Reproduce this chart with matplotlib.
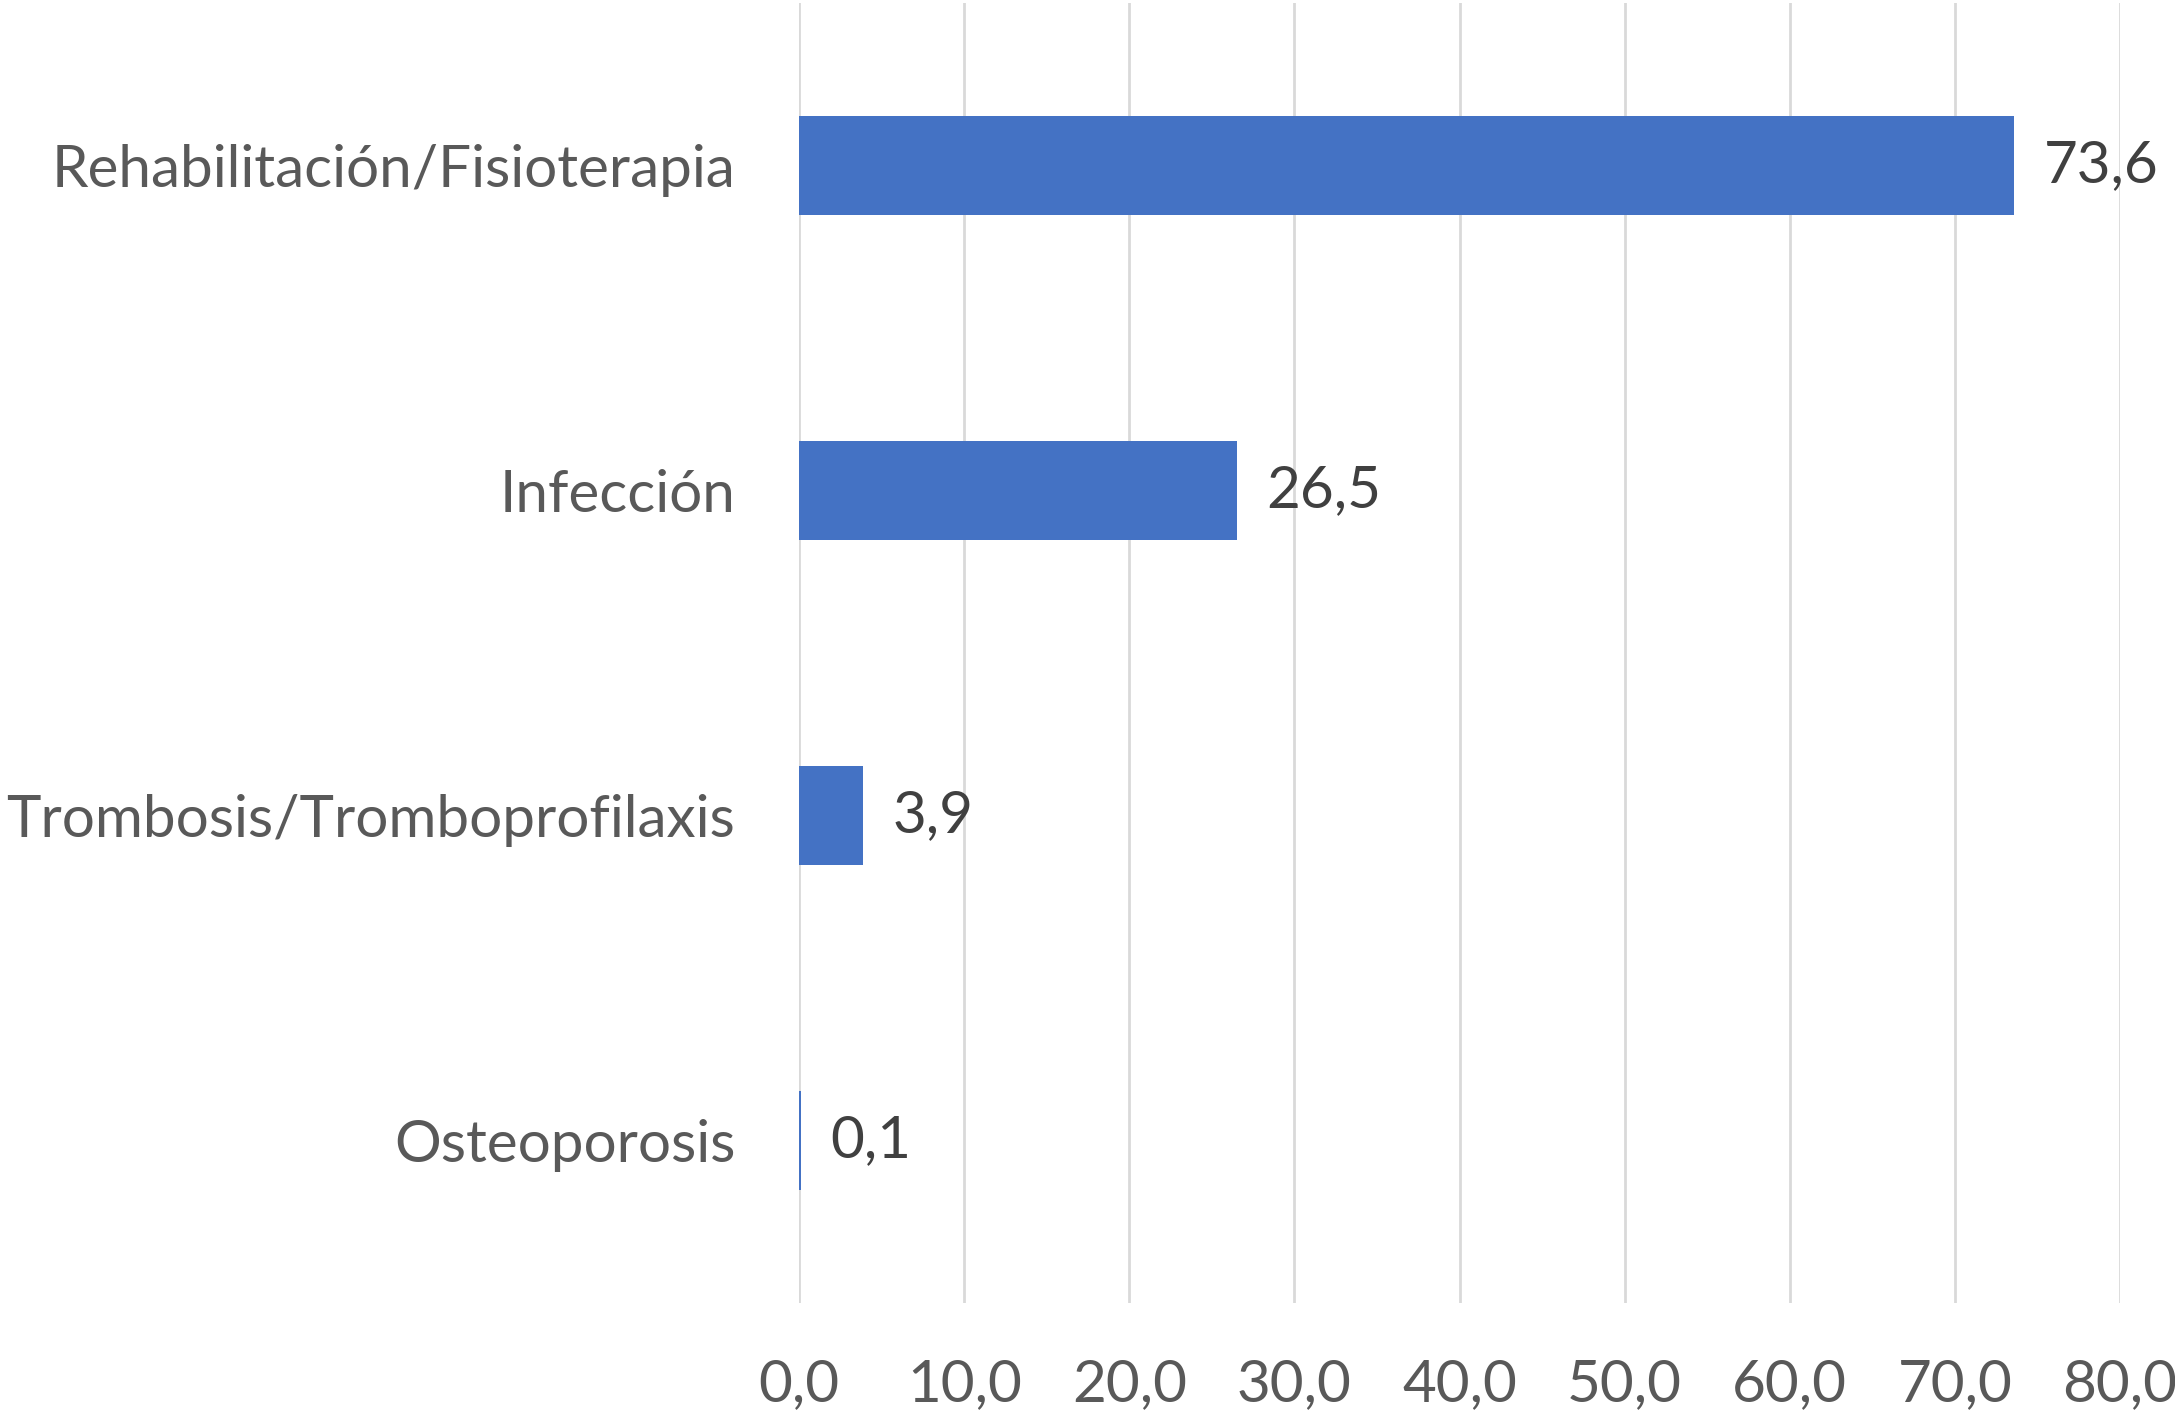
import matplotlib.pyplot as plt
import numpy as np

plt.rcParams['font.family'] = ['Lato', 'DejaVu Sans']

categories = ['Rehabilitación/Fisioterapia', 'Infección', 'Trombosis/Tromboprofilaxis', 'Osteoporosis']
values = [73.6, 26.5, 3.9, 0.1]
value_labels = ['73,6', '26,5', '3,9', '0,1']
xticks = [0, 10, 20, 30, 40, 50, 60, 70, 80]
xtick_labels = ['0,0', '10,0', '20,0', '30,0', '40,0', '50,0', '60,0', '70,0', '80,0']

fig = plt.figure(figsize=(21.75, 14.18), dpi=100)
ax = fig.add_axes([0.3674, 0.0811, 0.6073, 0.9168])

y = np.arange(len(categories))
ax.barh(y, values, height=0.305, color='#4472C4', zorder=2)

for yi, v, lab in zip(y, values, value_labels):
    ax.annotate(lab, (v, yi), xytext=(21, 0), textcoords='offset points',
                ha='left', va='center', fontsize=42, color='#404040')

ax.set_xlim(0, 80)
ax.set_ylim(len(categories) - 0.5, -0.5)
ax.set_yticks(y)
ax.set_yticklabels(categories, fontsize=42, color='#595959')
ax.set_xticks(xticks)
ax.set_xticklabels(xtick_labels, fontsize=42, color='#595959')
ax.tick_params(axis='y', length=0, pad=46)
ax.tick_params(axis='x', length=0, pad=40)

ax.grid(axis='x', color='#D9D9D9', linewidth=2, zorder=0)
for s in ax.spines.values():
    s.set_visible(False)

fig.savefig('out.png', dpi=100, facecolor='white')
